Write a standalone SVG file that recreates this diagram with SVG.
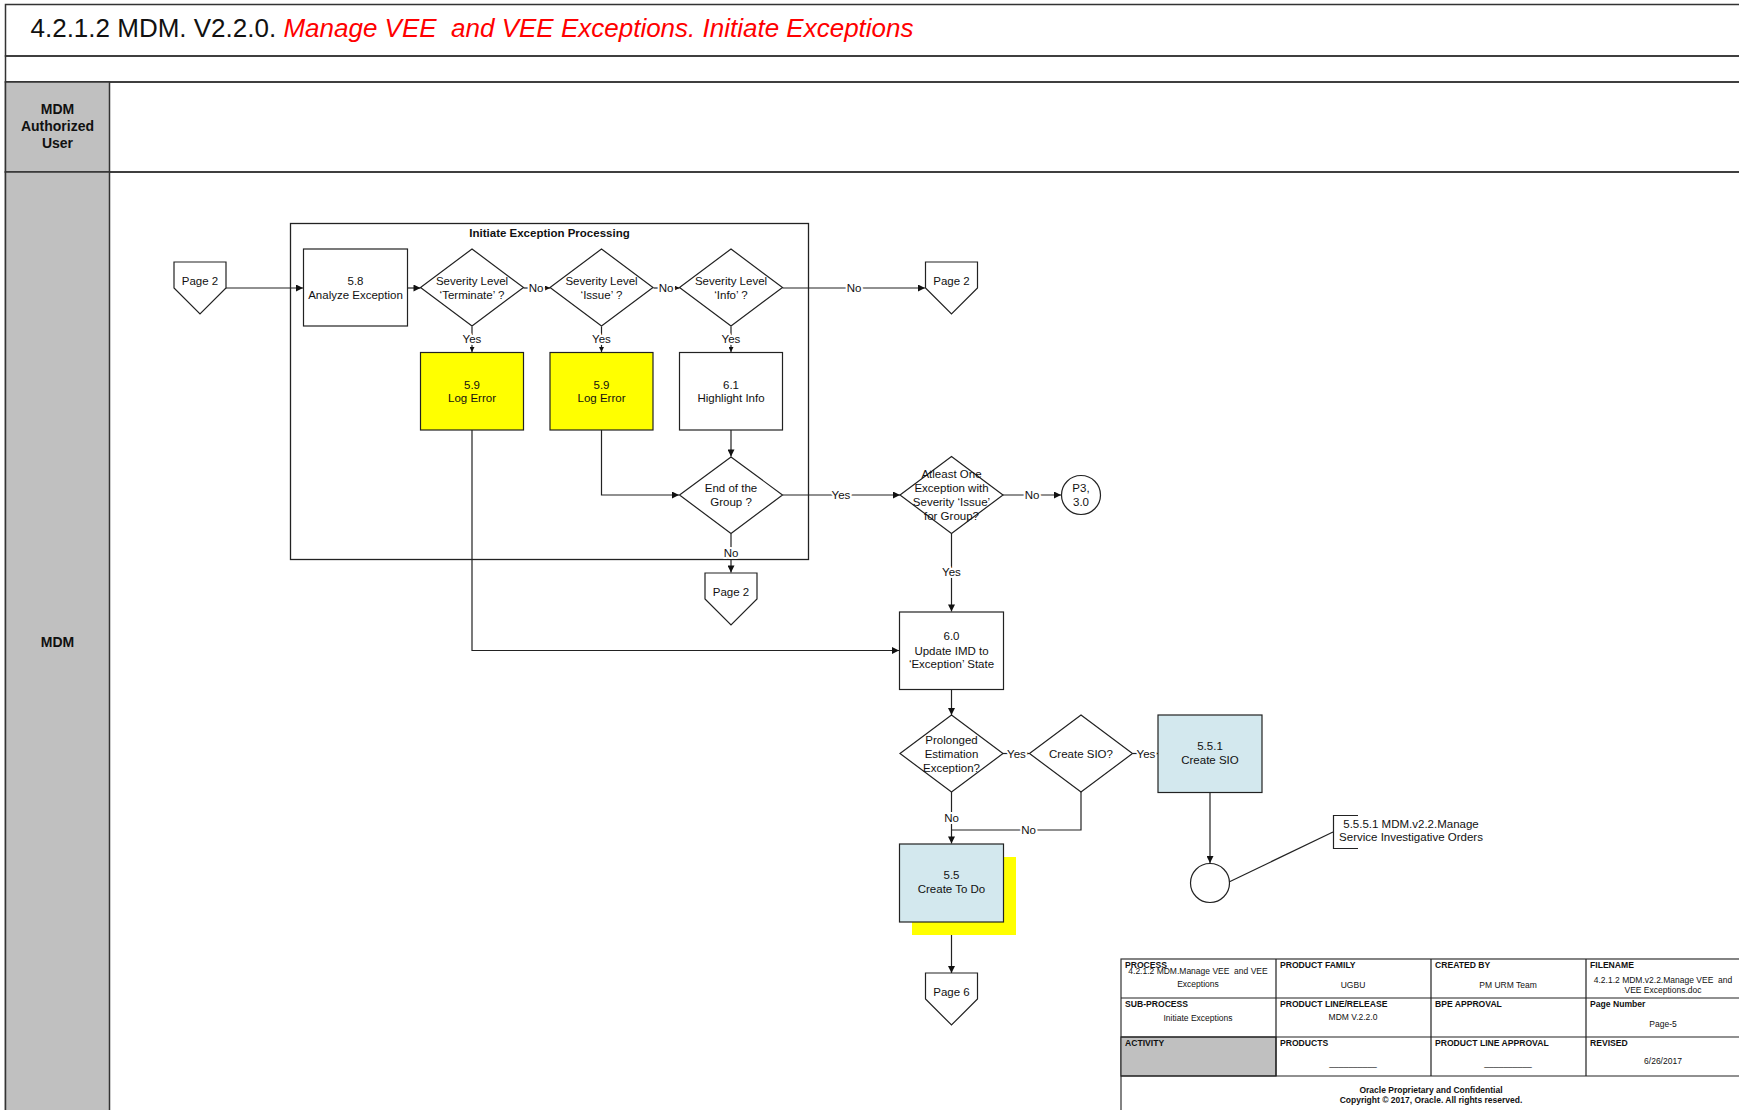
<svg xmlns="http://www.w3.org/2000/svg" width="1739" height="1110" viewBox="0 0 1739 1110">
<style>
text{font-family:"Liberation Sans",Arial,sans-serif;fill:#111}
.lane{fill:none;stroke:#333;stroke-width:1.5}
.hdr{fill:#C0C0C0;stroke:#333;stroke-width:1.5}
.hl{font-size:14px;font-weight:bold;text-anchor:middle}
.box{fill:#fff;stroke:#222;stroke-width:1.2}
.yel{fill:#FFFF00;stroke:#222;stroke-width:1.2}
.blu{fill:#D3E8EE;stroke:#222;stroke-width:1.2}
.nt{font-size:11.5px;text-anchor:middle}
.cn{fill:none;stroke:#222;stroke-width:1.2}
.lb{font-size:11.5px;text-anchor:middle;stroke:#fff;stroke-width:4;paint-order:stroke;stroke-linejoin:round}
.tb{fill:#fff;stroke:#333;stroke-width:1.2}
.tl{font-size:8.6px;font-weight:bold}
.tv{font-size:8.5px;text-anchor:middle}
.tc{font-size:8.5px;font-weight:bold;text-anchor:middle}
</style>
<defs>
<marker id="arr" viewBox="0 0 10 10" refX="10" refY="5" markerWidth="8" markerHeight="7" markerUnits="userSpaceOnUse" orient="auto"><path d="M0,0 L10,5 L0,10 z" fill="#111"/></marker>
<marker id="sarr" viewBox="0 0 10 10" refX="10" refY="5" markerWidth="5" markerHeight="5" markerUnits="userSpaceOnUse" orient="auto"><path d="M0,0 L10,5 L0,10 z" fill="#111"/></marker>
</defs>
<rect width="1739" height="1110" fill="#fff"/>

<g id="lanes">
<rect class="lane" x="5.5" y="4.5" width="1750" height="51.5"/>
<rect class="lane" x="5.5" y="56" width="1750" height="26"/>
<rect class="lane" x="5.5" y="82" width="1750" height="90"/>
<rect class="lane" x="5.5" y="172" width="1750" height="960"/>
<rect class="hdr" x="5.5" y="82" width="104" height="90"/>
<rect class="hdr" x="5.5" y="172" width="104" height="960"/>
<text x="30.5" y="37" style="font-size:26px">4.2.1.2 MDM. V2.2.0. <tspan style="fill:#FF0000;font-style:italic">Manage VEE&#160; and VEE Exceptions. Initiate Exceptions</tspan></text>
<text class="hl" x="57.5" y="114">MDM</text>
<text class="hl" x="57.5" y="131">Authorized</text>
<text class="hl" x="57.5" y="148">User</text>
<text class="hl" x="57.5" y="647">MDM</text>
</g>

<g id="container-initiate">
<rect x="290.5" y="223.5" width="518" height="336" fill="none" stroke="#222" stroke-width="1.3"/>
<text x="549.5" y="237" style="font-size:11.5px;font-weight:bold;text-anchor:middle">Initiate Exception Processing</text>
</g>

<g id="connectors">
<path class="cn" d="M226,288 H303" marker-end="url(#arr)"/>
<path class="cn" d="M407.5,288 H420.5" marker-end="url(#arr)"/>
<path class="cn" d="M523.5,288 H550" marker-end="url(#sarr)"/>
<text class="lb" x="536" y="292">No</text>
<path class="cn" d="M653.5,288 H679.5" marker-end="url(#sarr)"/>
<text class="lb" x="666" y="292">No</text>
<path class="cn" d="M782.5,288 H925" marker-end="url(#arr)"/>
<text class="lb" x="854" y="292">No</text>
<path class="cn" d="M472,326.5 V352" marker-end="url(#sarr)"/>
<text class="lb" x="472" y="343">Yes</text>
<path class="cn" d="M601.5,326.5 V352" marker-end="url(#sarr)"/>
<text class="lb" x="601.5" y="343">Yes</text>
<path class="cn" d="M731,326.5 V352" marker-end="url(#sarr)"/>
<text class="lb" x="731" y="343">Yes</text>
<path class="cn" d="M731,430 V456.5" marker-end="url(#arr)"/>
<path class="cn" d="M601.5,430 V495 H679" marker-end="url(#arr)"/>
<path class="cn" d="M731,533.5 V572.5" marker-end="url(#arr)"/>
<text class="lb" x="731" y="557">No</text>
<path class="cn" d="M782.5,495 H900" marker-end="url(#arr)"/>
<text class="lb" x="841" y="499">Yes</text>
<path class="cn" d="M1003,495 H1061" marker-end="url(#arr)"/>
<text class="lb" x="1032" y="499">No</text>
<path class="cn" d="M951.5,533.5 V611.5" marker-end="url(#arr)"/>
<text class="lb" x="951.5" y="576">Yes</text>
<path class="cn" d="M472,430 V650.5 H899" marker-end="url(#arr)"/>
<path class="cn" d="M951.5,689.5 V715" marker-end="url(#arr)"/>
<path class="cn" d="M1003,753.5 H1029" marker-end="url(#sarr)"/>
<text class="lb" x="1016.5" y="757.5">Yes</text>
<path class="cn" d="M1133,753.5 H1158" marker-end="url(#sarr)"/>
<text class="lb" x="1146" y="757.5">Yes</text>
<path class="cn" d="M951.5,792 V843.5" marker-end="url(#arr)"/>
<text class="lb" x="951.5" y="822">No</text>
<path class="cn" d="M1081,792 V830 H951.5"/>
<text class="lb" x="1028.5" y="834">No</text>
<path class="cn" d="M951.5,922 V973" marker-end="url(#arr)"/>
<path class="cn" d="M1210,792.5 V863" marker-end="url(#arr)"/>
<path class="cn" d="M1229,882 L1333,832"/>
</g>

<g id="page2-in">
<path class="box" d="M174,262 H226 V288 L200,314 L174,288 Z"/>
<text class="nt" x="200" y="285">Page 2</text>
</g>
<g id="n58">
<rect class="box" x="303.5" y="249" width="104" height="77"/>
<text class="nt" x="355.5" y="285">5.8</text>
<text class="nt" x="355.5" y="298.5">Analyze Exception</text>
</g>
<g id="d-terminate">
<path class="box" d="M472,249 L523.5,287.5 L472,326 L420.5,287.5 Z"/>
<text class="nt" x="472" y="285">Severity Level</text>
<text class="nt" x="472" y="298.5">‘Terminate’ ?</text>
</g>
<g id="d-issue">
<path class="box" d="M601.5,249 L653,287.5 L601.5,326 L550,287.5 Z"/>
<text class="nt" x="601.5" y="285">Severity Level</text>
<text class="nt" x="601.5" y="298.5">‘Issue’ ?</text>
</g>
<g id="d-info">
<path class="box" d="M731,249 L782.5,287.5 L731,326 L679.5,287.5 Z"/>
<text class="nt" x="731" y="285">Severity Level</text>
<text class="nt" x="731" y="298.5">‘Info’ ?</text>
</g>
<g id="log1">
<rect class="yel" x="420.5" y="352.5" width="103" height="77.5"/>
<text class="nt" x="472" y="388.5">5.9</text>
<text class="nt" x="472" y="402">Log Error</text>
</g>
<g id="log2">
<rect class="yel" x="550" y="352.5" width="103" height="77.5"/>
<text class="nt" x="601.5" y="388.5">5.9</text>
<text class="nt" x="601.5" y="402">Log Error</text>
</g>
<g id="n61">
<rect class="box" x="679.5" y="352.5" width="103" height="77.5"/>
<text class="nt" x="731" y="388.5">6.1</text>
<text class="nt" x="731" y="402">Highlight Info</text>
</g>
<g id="d-endgroup">
<path class="box" d="M731,457 L782.5,495 L731,533.5 L679.5,495 Z"/>
<text class="nt" x="731" y="492">End of the</text>
<text class="nt" x="731" y="505.5">Group ?</text>
</g>
<g id="page2-out-a">
<path class="box" d="M925.5,262 H977.5 V288 L951.5,314 L925.5,288 Z"/>
<text class="nt" x="951.5" y="285">Page 2</text>
</g>
<g id="page2-out-b">
<path class="box" d="M705,573 H757 V599 L731,625 L705,599 Z"/>
<text class="nt" x="731" y="596">Page 2</text>
</g>
<g id="d-atleast">
<path class="box" d="M951.5,456.5 L1003,495 L951.5,533.5 L900,495 Z"/>
<text class="nt" x="951.5" y="478">Atleast One</text>
<text class="nt" x="951.5" y="492">Exception with</text>
<text class="nt" x="951.5" y="505.5">Severity ‘Issue’</text>
<text class="nt" x="951.5" y="519.5">for Group?</text>
</g>
<g id="p3">
<circle class="box" cx="1081" cy="495" r="19.5"/>
<text class="nt" x="1081" y="492">P3,</text>
<text class="nt" x="1081" y="505.5">3.0</text>
</g>
<g id="n60">
<rect class="box" x="899.5" y="612" width="104" height="77.5"/>
<text class="nt" x="951.5" y="640">6.0</text>
<text class="nt" x="951.5" y="654.5">Update IMD to</text>
<text class="nt" x="951.5" y="668">‘Exception’ State</text>
</g>
<g id="d-prolonged">
<path class="box" d="M951.5,715 L1003,753.5 L951.5,792 L900,753.5 Z"/>
<text class="nt" x="951.5" y="743.5">Prolonged</text>
<text class="nt" x="951.5" y="757.5">Estimation</text>
<text class="nt" x="951.5" y="771.5">Exception?</text>
</g>
<g id="d-createsio">
<path class="box" d="M1081,715 L1132.5,753.5 L1081,792 L1029.5,753.5 Z"/>
<text class="nt" x="1081" y="757.5">Create SIO?</text>
</g>
<g id="n551">
<rect class="blu" x="1158" y="715" width="104" height="77.5"/>
<text class="nt" x="1210" y="750">5.5.1</text>
<text class="nt" x="1210" y="764">Create SIO</text>
</g>
<g id="n55">
<rect x="912" y="857" width="104" height="78" fill="#FFFF00"/>
<rect class="blu" x="899.5" y="844" width="104" height="78"/>
<text class="nt" x="951.5" y="879">5.5</text>
<text class="nt" x="951.5" y="893">Create To Do</text>
</g>
<g id="page6">
<path class="box" d="M925.5,973 H977.5 V999 L951.5,1025 L925.5,999 Z"/>
<text class="nt" x="951.5" y="996">Page 6</text>
</g>
<g id="sub-circle">
<circle class="box" cx="1210" cy="883" r="19.5"/>
</g>
<g id="annotation">
<path class="cn" d="M1358,815.5 H1333.5 V848.5 H1358"/>
<text class="nt" x="1411" y="828">5.5.5.1 MDM.v2.2.Manage</text>
<text class="nt" x="1411" y="841">Service Investigative Orders</text>
</g>

<g id="title-block">
<rect class="tb" x="1121" y="959" width="620" height="170"/>
<rect x="1121" y="1037" width="155" height="39" fill="#C0C0C0" stroke="#333" stroke-width="1.2"/>
<path class="cn" d="M1121,998 H1741 M1121,1037 H1741 M1121,1076 H1741 M1276,959 V1076 M1431,959 V1076 M1586,959 V1076"/>
<text class="tl" x="1125" y="968">PROCESS</text>
<text class="tv" x="1198" y="974">4.2.1.2 MDM.Manage VEE&#160; and VEE</text>
<text class="tv" x="1198" y="987">Exceptions</text>
<text class="tl" x="1280" y="968">PRODUCT FAMILY</text>
<text class="tv" x="1353" y="988">UGBU</text>
<text class="tl" x="1435" y="968">CREATED BY</text>
<text class="tv" x="1508" y="988">PM URM Team</text>
<text class="tl" x="1590" y="968">FILENAME</text>
<text class="tv" x="1663" y="983">4.2.1.2 MDM.v2.2.Manage VEE&#160; and</text>
<text class="tv" x="1663" y="993">VEE Exceptions.doc</text>
<text class="tl" x="1125" y="1007">SUB-PROCESS</text>
<text class="tv" x="1198" y="1021">Initiate Exceptions</text>
<text class="tl" x="1280" y="1007">PRODUCT LINE/RELEASE</text>
<text class="tv" x="1353" y="1020">MDM V.2.2.0</text>
<text class="tl" x="1435" y="1007">BPE APPROVAL</text>
<text class="tl" x="1590" y="1007">Page Number</text>
<text class="tv" x="1663" y="1027">Page-5</text>
<text class="tl" x="1125" y="1046">ACTIVITY</text>
<text class="tl" x="1280" y="1046">PRODUCTS</text>
<text class="tv" x="1353" y="1066">__________</text>
<text class="tl" x="1435" y="1046">PRODUCT LINE APPROVAL</text>
<text class="tv" x="1508" y="1066">__________</text>
<text class="tl" x="1590" y="1046">REVISED</text>
<text class="tv" x="1663" y="1064">6/26/2017</text>
<text class="tc" x="1431" y="1093">Oracle Proprietary and Confidential</text>
<text class="tc" x="1431" y="1103">Copyright © 2017, Oracle. All rights reserved.</text>
</g>
</svg>
